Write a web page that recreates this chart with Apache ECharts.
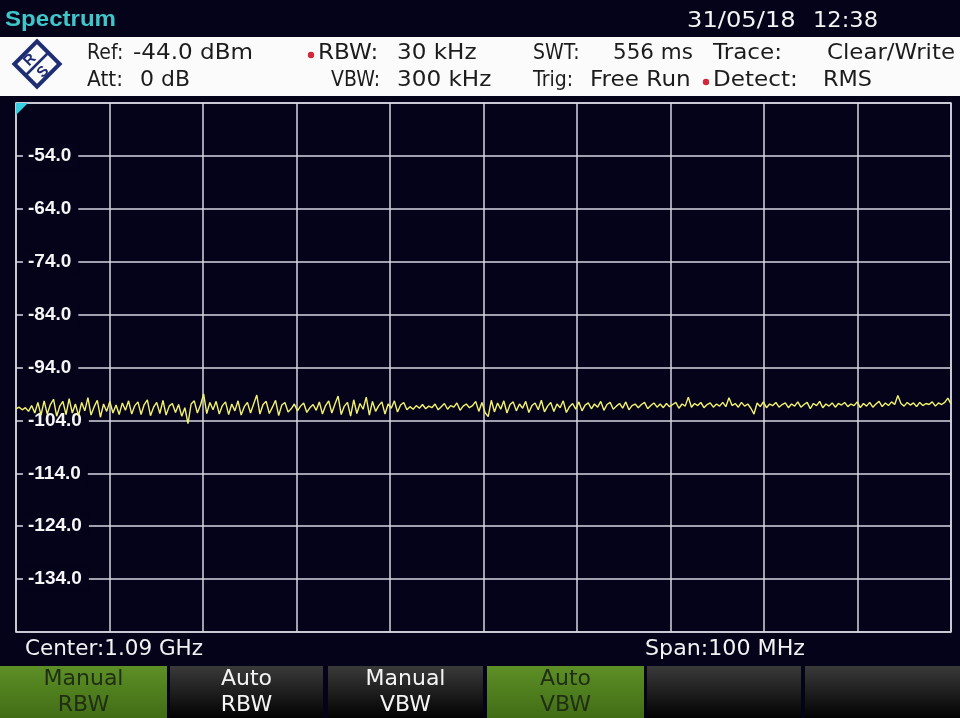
<!DOCTYPE html>
<html><head><meta charset="utf-8">
<script src="https://cdn.jsdelivr.net/npm/echarts@6/dist/echarts.min.js"></script>
<style>html,body{margin:0;padding:0;background:#05031a}#c{width:960px;height:718px}</style>
</head><body><div id="c"></div>
<script>
// ---- data ----
const startFreqMHz = 1040;
const stopFreqMHz = 1140;
const levelMin = -144;
const levelMax = -44;
const levelStep = 10;
const traceDbm = [
-101.8,-101.5,-102.0,-101.6,-102.3,-101.2,-102.6,-100.6,-103.0,-100.3,-102.8,-101.0,-100.0,-103.2,-101.3,-100.4,-102.9,-99.9,-102.6,-100.9,
-103.1,-100.6,-102.2,-99.7,-103.0,-101.4,-100.2,-103.4,-100.9,-102.3,-100.4,-102.6,-101.1,-102.9,-100.7,-102.1,-100.3,-102.8,-101.2,-100.5,
-102.9,-101.0,-100.1,-103.1,-101.5,-100.6,-102.7,-100.2,-103.0,-101.3,-100.8,-102.5,-101.0,-103.2,-101.6,-104.6,-100.9,-100.3,-102.6,-101.1,
-99.0,-102.7,-100.6,-102.0,-100.4,-102.8,-101.2,-100.5,-102.9,-100.9,-102.2,-100.3,-103.0,-101.4,-100.6,-102.6,-100.9,-99.2,-102.8,-101.0,
-100.4,-102.7,-101.5,-100.2,-103.1,-101.1,-100.6,-102.4,-101.8,-100.9,-102.2,-101.3,-100.7,-102.5,-101.6,-101.0,-102.1,-100.5,-102.8,-101.2,
-100.3,-102.6,-100.9,-99.4,-102.9,-101.3,
-100.6,-103.2,-100.1,-102.7,-100.8,-101.9,-99.6,-103.0,-100.4,-102.3,-101.2,-100.5,-102.8,-100.9,-101.7,-100.3,-102.4,-101.1,-100.6,-102.0,
-101.4,-101.9,-101.2,-101.7,-101.0,-101.8,-101.3,-101.6,-100.9,-102.0,-101.4,-100.8,-101.9,-101.2,-101.5,-100.7,-102.1,-101.3,-100.9,-101.6,
-101.2,-100.4,-102.3,-100.6,-102.5,-103.3,-100.2,-102.4,-100.7,-101.9,-100.3,-102.6,-101.0,-100.5,-102.2,-100.9,-101.7,-100.4,-102.5,-101.2,
-100.7,-102.0,-100.2,-102.4,-101.3,-100.6,-102.3,-100.9,-101.6,-100.3,-102.5,-101.4,-100.8,-101.9,-100.5,-102.2,-101.1,-100.7,-101.8,-100.9,
-101.5,-100.4,-102.1,-101.0,-100.6,-101.9,-101.3,-100.8,-101.7,-100.5,-102.0,-101.2,-100.9,-101.6,-101.0,-100.6,-101.8,-101.2,-100.7,-101.5,
-100.9,-101.6,-100.8,-101.4,-101.0,-100.6,-101.7,-100.9,-101.3,-99.6,-101.5,-100.8,-101.2,-100.6,-101.6,-101.0,-100.7,-101.5,-100.9,-101.3,
-100.6,-101.4,-99.7,-101.2,-100.8,-101.5,-100.6,-101.3,-100.9,-101.7,-102.8,-100.7,-101.4,-100.5,-101.6,-100.9,-101.2,-100.6,-101.5,-101.0,
-100.7,-101.6,-100.9,-101.3,-100.5,-101.5,-101.0,-100.6,-101.8,-100.8,-101.2,-100.4,-101.6,-100.9,-101.3,-100.7,-101.5,-100.8,-101.1,-100.6,
-101.4,-100.9,-101.2,-100.5,-101.6,-100.8,-101.3,-100.6,-101.5,-100.9,-100.4,-101.4,-100.7,-101.2,-100.5,-101.0,-99.3,-100.8,-101.3,-100.6,
-101.1,-100.7,-101.4,-100.6,-101.2,-100.8,-101.0,-100.5,-101.3,-100.7,-101.0,-100.6,-99.8,-100.9
];
const headerTitle = 'Spectrum';
const headerDate = '31/05/18';
const headerTime = '12:38';
const infoRow1 = ['Ref:', '-44.0 dBm', 'RBW:', '30 kHz', 'SWT:', '556 ms', 'Trace:', 'Clear/Write'];
const infoRow2 = ['Att:', '0 dB', 'VBW:', '300 kHz', 'Trig:', 'Free Run', 'Detect:', 'RMS'];
const centerText = 'Center:1.09 GHz';
const spanText = 'Span:100 MHz';
const softkeys = [['Manual','RBW'],['Auto','RBW'],['Manual','VBW'],['Auto','VBW'],['',''],['','']];

// ---- build ----
const N = traceDbm.length;
const traceData = traceDbm.map((v, i) => [startFreqMHz + i * (stopFreqMHz - startFreqMHz) / (N - 1), v]);

const FONT = 'DejaVu Sans';
const mctx = document.createElement('canvas').getContext('2d');
function fitTxt(x0, x1, y, s, font, color) {
  mctx.font = font;
  const w = mctx.measureText(s).width;
  let sx = (x1 - x0) / w;
  sx = Math.max(0.9, Math.min(1.1, sx));
  return { type: 'text', x: x0, y: y, scaleX: sx, z: 50,
    style: { text: s, fill: color, font: font, verticalAlign: 'middle', align: 'left' } };
}
const graphics = [];
graphics.push({ type: 'rect', shape: { x: 0, y: 37, width: 960, height: 59 }, style: { fill: '#fbfbfb' }, z: 40 });
graphics.push(fitTxt(5, 116, 20, headerTitle, 'bold 22px "Liberation Sans"', '#3fc6c8'));
graphics.push(fitTxt(687, 798, 21, headerDate, '22px "' + FONT + '"', '#f4f4f4'));
graphics.push(fitTxt(813, 878, 21, headerTime, '22px "' + FONT + '"', '#f4f4f4'));
const row1Box = [[87, 120], [133, 256], [318, 380], [397, 490], [533, 577], [613, 693], [713, 792], [827, 955]];
const row2Box = [[87, 123], [140, 190], [331, 380], [397, 507], [533, 572], [590, 697], [713, 810], [823, 872]];
const infoFont = '21px "' + FONT + '"';
infoRow1.forEach((s, i) => graphics.push(fitTxt(row1Box[i][0], row1Box[i][1], 54, s, infoFont, '#1c1c1c')));
infoRow2.forEach((s, i) => graphics.push(fitTxt(row2Box[i][0], row2Box[i][1], 81, s, infoFont, '#1c1c1c')));
graphics.push({ type: 'circle', shape: { cx: 311, cy: 55, r: 3.2 }, style: { fill: '#d2283c' }, z: 50 });
graphics.push({ type: 'circle', shape: { cx: 706, cy: 82, r: 3.2 }, style: { fill: '#d2283c' }, z: 50 });
// logo
graphics.push({
  type: 'group', x: 37, y: 64, z: 50,
  children: [
    { type: 'rect', shape: { x: -16, y: -16, width: 32, height: 32 }, rotation: Math.PI / 4, style: { fill: 'none', stroke: '#1f2e72', lineWidth: 4 }, z: 50 },
    { type: 'line', shape: { x1: -12, y1: 12, x2: 12, y2: -12 }, style: { stroke: '#1f2e72', lineWidth: 2.5 }, z: 50 },
    { type: 'text', x: -7, y: -4, rotation: Math.PI / 4, style: { text: 'R', fill: '#1f2e72', font: 'bold 15px "Liberation Sans"', align: 'center', verticalAlign: 'middle' }, z: 50 },
    { type: 'text', x: 6, y: 8, rotation: Math.PI / 4, style: { text: 'S', fill: '#1f2e72', font: 'bold 15px "Liberation Sans"', align: 'center', verticalAlign: 'middle' }, z: 50 }
  ]
});
graphics.push({ type: 'polygon', shape: { points: [[16, 103], [28, 103], [16, 115]] }, style: { fill: '#36d0e0' }, z: 50 });
graphics.push(fitTxt(25, 203, 650, centerText, '21px "' + FONT + '"', '#f2f2f2'));
graphics.push(fitTxt(645, 805, 650, spanText, '21px "' + FONT + '"', '#f2f2f2'));
// softkeys
const keyX = [[0, 167], [170, 323], [328, 483], [487, 644], [647, 801], [805, 960]];
const keyGreen = [true, false, false, true, false, false];
softkeys.forEach((k, i) => {
  const x0 = keyX[i][0], x1 = keyX[i][1];
  const fill = keyGreen[i]
    ? { type: 'linear', x: 0, y: 0, x2: 0, y2: 1, colorStops: [{ offset: 0, color: '#5d8f26' }, { offset: 1, color: '#416d15' }] }
    : { type: 'linear', x: 0, y: 0, x2: 0, y2: 1, colorStops: [{ offset: 0, color: '#3a3a3a' }, { offset: 1, color: '#020202' }] };
  graphics.push({ type: 'rect', shape: { x: x0, y: 666, width: x1 - x0, height: 52 }, style: { fill: fill }, z: 40 });
  const col = keyGreen[i] ? '#1f2e14' : '#f4f4f4';
  const cx = (x0 + x1) / 2;
  graphics.push({ type: 'text', x: cx, y: 679, z: 50, style: { text: k[0], fill: col, font: '22px "' + FONT + '"', align: 'center', verticalAlign: 'middle' } });
  graphics.push({ type: 'text', x: cx, y: 705, z: 50, style: { text: k[1], fill: col, font: '22px "' + FONT + '"', align: 'center', verticalAlign: 'middle' } });
});

const chart = echarts.init(document.getElementById('c'), null, { renderer: 'canvas' });
chart.setOption({
  backgroundColor: '#05031a',
  animation: false,
  grid: { left: 16, top: 103, right: 9, bottom: 86, show: true, borderColor: '#d6d6e0', borderWidth: 1.5, backgroundColor: 'transparent' },
  xAxis: {
    type: 'value', min: startFreqMHz, max: stopFreqMHz, interval: 10,
    axisLine: { show: false }, axisTick: { show: false }, axisLabel: { show: false },
    splitLine: { show: true, lineStyle: { color: '#d6d6e0', width: 1.5 } }
  },
  yAxis: [{
    type: 'value', min: levelMin, max: levelMax, interval: levelStep, z: 0,
    axisLine: { show: false }, axisTick: { show: false }, axisLabel: { show: false },
    splitLine: { show: true, lineStyle: { color: '#d6d6e0', width: 1.5 } }
  }, {
    type: 'value', min: levelMin, max: levelMax, interval: levelStep, z: 3, position: 'left',
    axisLine: { show: false }, axisTick: { show: false }, splitLine: { show: false },
    axisLabel: {
      inside: true, margin: 7, showMinLabel: false, showMaxLabel: false,
      formatter: v => v.toFixed(1),
      color: '#f6f6f6', fontWeight: 'bold', fontSize: 19, fontFamily: 'Liberation Sans',
      backgroundColor: '#05031a', padding: [3, 7, 3, 5]
    }
  }],
  series: [{
    type: 'line', data: traceData, yAxisIndex: 0, z: 10,
    showSymbol: false, symbol: 'none',
    lineStyle: { color: '#f2f26e', width: 1.4 }
  }],
  graphic: graphics
});
</script>
</body></html>
